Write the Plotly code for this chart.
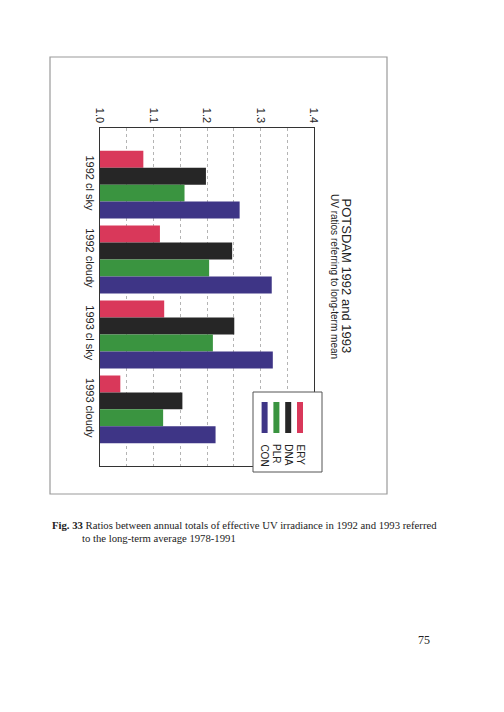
import plotly.graph_objects as go

# ratio of annual totals to 1978-1991 mean
cases = ['1992 cl sky', '1992 cloudy', '1993 cl sky', '1993 cloudy']
ery = [1.081, 1.112, 1.120, 1.038]
dna = [1.198, 1.247, 1.251, 1.154]
plr = [1.158, 1.204, 1.211, 1.118]
con = [1.261, 1.321, 1.323, 1.216]
names = ['ERY', 'DNA', 'PLR', 'CON']
colors = ['#d9385a', '#262626', '#3a9440', '#3e3586']
ticks = [1.0, 1.1, 1.2, 1.3, 1.4]

SANS = 'Arial, Liberation Sans, sans-serif'
SERIF = 'Times New Roman, Liberation Serif, serif'

# plot area in page pixels: x 100..314, y 128..466
def px(x):
    return (x - 100) / 214.0

def py(y):
    return (466 - y) / 338.0

fig = go.Figure()
for n, vals, c in zip(names, [ery, dna, plr, con], colors):
    fig.add_trace(go.Bar(y=cases, x=vals, base=0, name=n, orientation='h',
                         marker=dict(color=c, line=dict(width=0)),
                         showlegend=False))

shapes = [
    # outer frame of the figure
    dict(type='rect', xref='paper', yref='paper', x0=px(50), x1=px(387),
         y0=py(494), y1=py(57), line=dict(color='#9a9a9a', width=1.2)),
    # legend box
    dict(type='rect', xref='paper', yref='paper', x0=px(253), x1=px(322),
         y0=py(472), y1=py(392), line=dict(color='#555555', width=1),
         fillcolor='white', layer='above'),
]
annotations = []
# legend drawn rotated like the rest of the chart
for i, (n, c) in enumerate(zip(names, colors)):
    xc = 300 - i * 11.8
    shapes.append(dict(type='rect', xref='paper', yref='paper',
                       x0=px(xc - 3), x1=px(xc + 3), y0=py(433), y1=py(402),
                       fillcolor=c, line=dict(width=0), layer='above'))
    annotations.append(dict(text=n, xref='paper', yref='paper', x=px(xc),
                            y=py(442), xanchor='center', yanchor='top',
                            textangle=90, showarrow=False,
                            font=dict(family=SANS, size=10, color='#222')))

annotations += [
    dict(text='POTSDAM 1992 and 1993', xref='paper', yref='paper',
         x=px(356), y=py(276), textangle=90, showarrow=False,
         font=dict(family=SANS, size=13, color='#222')),
    dict(text='UV ratios referring to long-term mean', xref='paper',
         yref='paper', x=px(342.5), y=py(276), textangle=90, showarrow=False,
         font=dict(family=SANS, size=10, color='#222')),
    dict(text='<b>Fig. 33</b> Ratios between annual totals of effective UV '
              'irradiance in 1992 and 1993 referred',
         xref='paper', yref='paper', x=px(50), y=py(525), xanchor='left',
         yanchor='middle', showarrow=False,
         font=dict(family=SERIF, size=10.7, color='#222')),
    dict(text='to the long-term average 1978-1991', xref='paper',
         yref='paper', x=px(80), y=py(538), xanchor='left',
         yanchor='middle', showarrow=False,
         font=dict(family=SERIF, size=10.7, color='#222')),
    dict(text='75', xref='paper', yref='paper', x=px(432), y=py(640),
         xanchor='right', yanchor='middle', showarrow=False,
         font=dict(family=SERIF, size=12, color='#222')),
]

# the page body has an 8px margin, so the figure is 8px smaller each way
fig.update_layout(
    width=496, height=704,
    margin=dict(l=92, r=190, t=120, b=246),
    paper_bgcolor='white', plot_bgcolor='white',
    barmode='group', bargap=0.093, bargroupgap=0,
    shapes=shapes, annotations=annotations,
    xaxis=dict(range=[1.0, 1.4], side='top', tickvals=ticks,
               ticktext=['%.1f' % t for t in ticks], tickangle=90,
               tickfont=dict(family=SANS, size=11, color='#222'),
               showgrid=True, gridcolor='#b4b4b4', griddash='dot',
               gridwidth=1, showline=True, linecolor='#333', linewidth=1.2,
               mirror=True, ticks='', zeroline=False,
               minor=dict(dtick=0.05, tick0=1.0, showgrid=True,
                          gridcolor='#b4b4b4', griddash='dot', gridwidth=1)),
    yaxis=dict(range=[3.756, -0.756], tickangle=90,
               tickfont=dict(family=SANS, size=11, color='#222'),
               showline=True, linecolor='#333', linewidth=1.2, mirror=True,
               ticks='', showgrid=False),
)

fig.write_html('out.html')
